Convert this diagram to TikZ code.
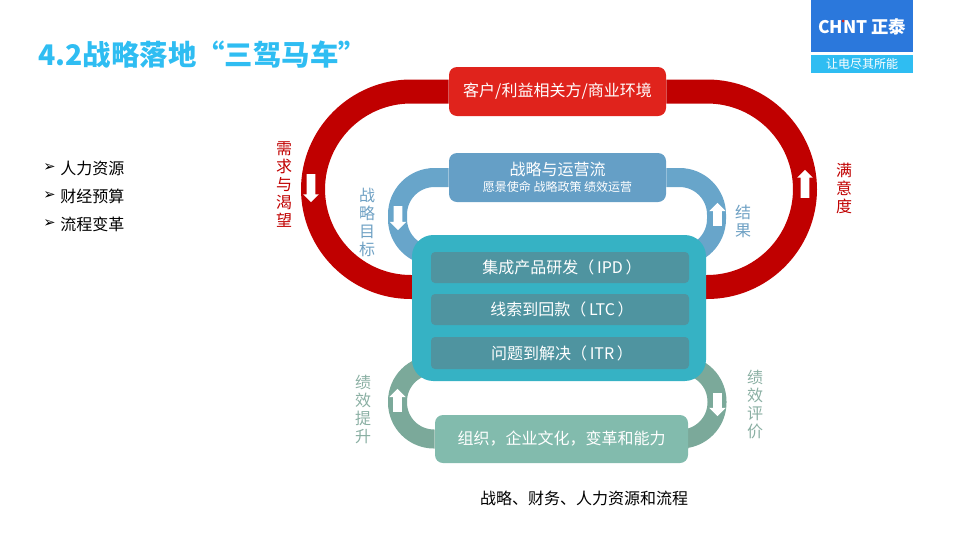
\documentclass[tikz,border=0pt]{standalone}
\usepackage{fontspec}
\setmainfont{Noto Sans CJK SC}
\newfontfamily\symfont{DejaVu Sans}
\usetikzlibrary{backgrounds,shapes.arrows}
\definecolor{chinttitle}{HTML}{2FBDF2}
\definecolor{chintblue}{HTML}{2B78DC}
\definecolor{ringred}{HTML}{C00000}
\definecolor{boxred}{HTML}{E0231C}
\definecolor{ringblue}{HTML}{68A5CA}
\definecolor{boxblue}{HTML}{659FC6}
\definecolor{ringgreen}{HTML}{7BA99A}
\definecolor{boxgreen}{HTML}{82BBAD}
\definecolor{boxteal}{HTML}{36B2C4}
\definecolor{barteal}{HTML}{4F94A0}
\definecolor{labelblue}{HTML}{6FA1C4}
\definecolor{labelgreen}{HTML}{8AAFA3}
\def\px{0.75pt}

\begin{document}
\begin{tikzpicture}[
    x=\px, y=-\px,
    box/.style={rectangle, rounded corners=6pt, text=white, inner sep=0pt, align=center, font=\fontsize{12}{14}\selectfont},
    bar/.style={box, fill=barteal, rounded corners=3pt, minimum width=258*\px, minimum height=31*\px},
    ring/.style={line width=#1*\px},
    vlabel/.style={align=center, inner sep=0pt, font=\fontsize{12}{13.5}\selectfont},
    bullet/.style={anchor=west, inner sep=0pt, font=\fontsize{12}{14}\selectfont},
    tick/.style={anchor=west, inner sep=0pt, font=\symfont\fontsize{11}{13}\selectfont},
    blockup/.style={single arrow, fill=white, inner sep=4*\px, shape border rotate=90, single arrow head extend=4*\px, single arrow head indent=0pt, minimum height=#1*\px},
    blockdown/.style={blockup=#1, shape border rotate=270}
]
\useasboundingbox (0,0) rectangle (960,540);

\node[anchor=west, inner sep=0pt, text=chinttitle, font=\fontsize{21.3}{25}\selectfont\bfseries] (title) at (38,55) {4.2战略落地“三驾马车”};

% logo
\node[rectangle, fill=chintblue, minimum width=102*\px, minimum height=52*\px, inner sep=0pt] (logo) at (862,26) {};
\node[rectangle, fill=chinttitle, minimum width=102*\px, minimum height=18*\px, inner sep=0pt] (slogan) at (862,64) {};
\node[text=white, inner sep=0pt, font=\fontsize{13}{15}\selectfont\bfseries] (chnt) at (862,27) {CHNT 正泰};
\node[circle, fill=boxred, minimum size=3*\px, inner sep=0pt] (chntdot) at (843,21) {};
\node[text=white, inner sep=0pt, font=\fontsize{9}{11}\selectfont] (slogantext) at (862,64) {让电尽其所能};

% boxes
\node[box, fill=boxred, minimum width=217*\px, minimum height=49*\px] (customer) at (557.5,91.5) {客户/利益相关方/商业环境};
\node[box, fill=boxblue, minimum width=217*\px, minimum height=49*\px] (strategy) at (557.5,177.5) {战略与运营流\\[-2pt]{\fontsize{9}{11}\selectfont 愿景使命 战略政策 绩效运营}};
\node[box, fill=boxteal, rounded corners=16pt, minimum width=294*\px, minimum height=146*\px] (core) at (559,308) {};
\node[bar] (ipd) at (560,267.5) {\hspace*{3pt}集成产品研发（\,IPD\,）};
\node[bar] (ltc) at (560,309.5) {\hspace*{3pt}线索到回款（\,LTC\,）};
\node[bar, minimum height=32*\px] (itr) at (560,353) {\hspace*{3pt}问题到解决（\,ITR\,）};
\node[box, fill=boxgreen, minimum width=253*\px, minimum height=48*\px] (culture) at (561.5,439) {组织，企业文化，变革和能力};

% rings
\coordinate (redL) at (420,287);
\coordinate (redR) at (700,287);
\coordinate (blueL) at (440,256);
\coordinate (blueR) at (680,256);
\coordinate (greenL) at (440,365);
\coordinate (greenR) at (680,365);
\begin{scope}[on background layer]
\draw[ring=24, ringred, rounded corners=98*\px] (customer.west) -| (313,287) -- (redL);
\draw[ring=24, ringred, rounded corners=98*\px] (customer.east) -| (805,287) -- (redR);
\draw[ring=19, ringblue, rounded corners=37*\px] (strategy.west) -| (397.5,256) -- (blueL);
\draw[ring=19, ringblue, rounded corners=37*\px] (strategy.east) -| (716.5,256) -- (blueR);
\draw[ring=19, ringgreen, rounded corners=36.5*\px] (culture.west) -| (397.5,365) -- (greenL);
\draw[ring=19, ringgreen, rounded corners=36.5*\px] (culture.east) -| (717,365) -- (greenR);
\end{scope}

% arrows on rings
\node[blockdown=28, single arrow head extend=3.5*\px] (reddown) at (311,186) {};
\node[blockup=28, single arrow head extend=3.5*\px] (redup) at (805,186) {};
\node[blockdown=24] (bluedown) at (398,216) {};
\node[blockup=23] (blueup) at (717.5,216.5) {};
\node[blockup=23] (greenup) at (397.5,402.5) {};
\node[blockdown=23] (greendown) at (717.5,402.5) {};

% labels
\node[vlabel, text=ringred] (demand) at (284,185) {需\\求\\与\\渴\\望};
\node[vlabel, text=ringred] (satisfy) at (844,188) {满\\意\\度};
\node[vlabel, text=labelblue] (goal) at (367,222) {战\\略\\目\\标};
\node[vlabel, text=labelblue] (result) at (743,221) {结\\果};
\node[vlabel, text=labelgreen] (improve) at (363,409) {绩\\效\\提\\升};
\node[vlabel, text=labelgreen] (assess) at (755,404) {绩\\效\\评\\价};

\node[tick] (tick1) at (43,168) {➢};
\node[tick] (tick2) at (43,196) {➢};
\node[tick] (tick3) at (43,224) {➢};
\node[bullet] (hr) at (60,168) {人力资源};
\node[bullet] (finance) at (60,196) {财经预算};
\node[bullet] (process) at (60,224) {流程变革};

\node[inner sep=0pt, font=\fontsize{12}{14}\selectfont] (footer) at (584,498) {战略、财务、人力资源和流程};
\end{tikzpicture}
\end{document}
